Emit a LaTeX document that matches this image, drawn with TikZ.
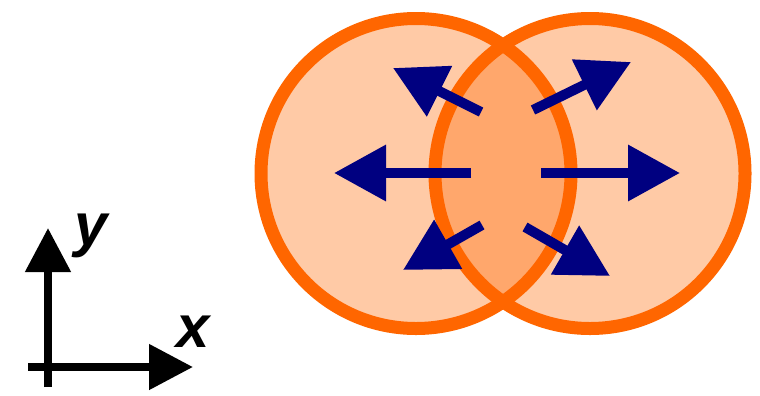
\documentclass[tikz,border=0pt]{standalone}
\usepackage{fontspec}
\setsansfont{Liberation Sans}
\usepackage{xcolor}
\usepackage{tikz}
\usetikzlibrary{arrows.meta, positioning}

\definecolor{rimorange}{HTML}{FF6600}
\definecolor{flownavy}{HTML}{000080}

\begin{document}
\begin{tikzpicture}[
  zone/.style={
    circle, minimum size=3.1cm, inner sep=0pt,
    draw=rimorange, line width=0.13cm,
    fill=rimorange, fill opacity=0.35
  },
  flow/.style={draw=flownavy, line width=0.1cm, -{Triangle[length=5.2mm, width=5.4mm]}},
  axis/.style={draw=black, line width=0.08cm, -{Triangle[length=4.4mm, width=4.4mm]}},
  axlabel/.style={font=\fontsize{17}{20}\selectfont\sffamily\bfseries\itshape, inner sep=0pt}
]

\useasboundingbox (0,0) rectangle (7.6,3.95);

% Overlapping regions
\node[zone] (lregion) at (4.16,2.215) {};
\node[zone] (rregion) at (5.90,2.215) {};

% Outward flow from the overlap
\coordinate (src-l)  at (4.71,2.22);
\coordinate (dst-l)  at (3.34,2.22);
\coordinate (src-r)  at (5.41,2.22);
\coordinate (dst-r)  at (6.80,2.22);
\coordinate (src-ul) at (4.81,2.83);
\coordinate (dst-ul) at (3.93,3.27);
\coordinate (src-ur) at (5.33,2.85);
\coordinate (dst-ur) at (6.31,3.33);
\coordinate (src-ll) at (4.82,1.70);
\coordinate (dst-ll) at (4.03,1.25);
\coordinate (src-lr) at (5.25,1.68);
\coordinate (dst-lr) at (6.10,1.19);

\draw[flow] (src-l) -- (dst-l);
\draw[flow] (src-r) -- (dst-r);
\draw[flow] (src-ul) -- (dst-ul);
\draw[flow] (src-ur) -- (dst-ur);
\draw[flow] (src-ll) -- (dst-ll);
\draw[flow] (src-lr) -- (dst-lr);

% Axes
\coordinate (xstart) at (0.28,0.28);
\coordinate (xend)   at (1.93,0.28);
\coordinate (ystart) at (0.48,0.08);
\coordinate (yend)   at (0.48,1.67);
\draw[axis] (xstart) -- (xend);
\draw[axis] (ystart) -- (yend);
\node[axlabel] (xlabel) at (1.93,0.63) {x};
\node[axlabel] (ylabel) at (0.91,1.59) {y};

\end{tikzpicture}
\end{document}
